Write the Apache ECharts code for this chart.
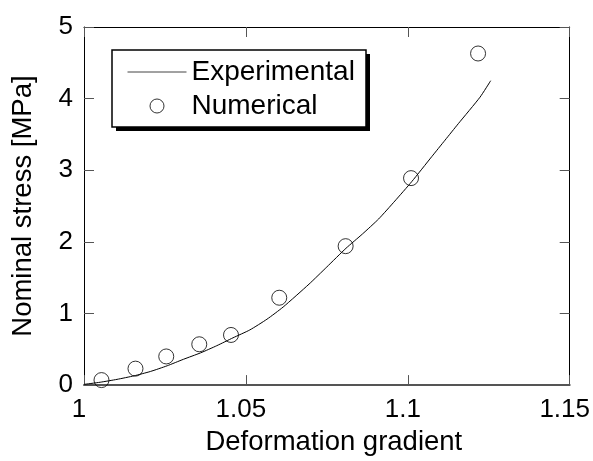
<!DOCTYPE html>
<html>
<head>
<meta charset="utf-8">
<script src="https://cdn.jsdelivr.net/npm/echarts@6/dist/echarts.min.js"></script>
<style>
html,body{margin:0;padding:0;background:#fff;}
#chart{width:593px;height:461px;}
</style>
</head>
<body>
<div id="chart"></div>
<script>
// Experimental curve (deformation gradient, nominal stress MPa)
var expX = [1.000, 1.005, 1.0102, 1.0155, 1.0205, 1.0257, 1.0307, 1.036, 1.041, 1.046, 1.0512, 1.0565, 1.0615, 1.0695, 1.075, 1.0809, 1.086, 1.091, 1.096, 1.1012, 1.1074, 1.1115, 1.1156, 1.1223, 1.1256];
var expY = [0.01, 0.04, 0.08, 0.13, 0.19, 0.27, 0.36, 0.45, 0.55, 0.66, 0.77, 0.92, 1.09, 1.41, 1.65, 1.91, 2.11, 2.32, 2.57, 2.84, 3.19, 3.42, 3.65, 4.02, 4.25];
// Numerical points
var numX = [1.0054, 1.0159, 1.0254, 1.0356, 1.0454, 1.0603, 1.0808, 1.1010, 1.1217];
var numY = [0.07, 0.23, 0.40, 0.57, 0.70, 1.22, 1.94, 2.89, 4.63];
var xTicks = {min: 1, max: 1.15, interval: 0.05};
var yTicks = {min: 0, max: 5, interval: 1};
var legendNames = ['Experimental', 'Numerical'];

var FONT = 'Liberation Sans, Arial, sans-serif';
var chart = echarts.init(document.getElementById('chart'), null, {renderer: 'canvas'});

function pairs(xs, ys) { return xs.map(function (x, i) { return [x, ys[i]]; }); }

var tickStyle = {show: true, inside: true, length: 10, lineStyle: {color: '#555', width: 1}};
var option = {
  backgroundColor: '#fff',
  animation: false,
  grid: {left: 84, right: 21, top: 27, bottom: 68, containLabel: false},
  graphic: [
    {type: 'rect', z: 10, shape: {x: 116, y: 54, width: 254, height: 77}, style: {fill: '#000'}},
    {type: 'rect', z: 11, shape: {x: 112, y: 50, width: 254, height: 77}, style: {fill: '#fff', stroke: '#000', lineWidth: 1.5}}
  ],
  legend: {
    orient: 'vertical',
    left: 127, top: 58,
    padding: 0,
    itemGap: 6,
    itemWidth: 59, itemHeight: 14,
    z: 20,
    textStyle: {fontFamily: FONT, fontSize: 28, color: '#000', lineHeight: 28},
    data: [
      {name: legendNames[0], itemStyle: {opacity: 0}, lineStyle: {color: '#444', width: 1}},
      {name: legendNames[1], itemStyle: {borderWidth: 1, borderColor: '#000'}}
    ]
  },
  xAxis: [{
    type: 'value', min: xTicks.min, max: xTicks.max, interval: xTicks.interval,
    name: 'Deformation gradient', nameLocation: 'middle', nameGap: 42,
    nameTextStyle: {fontFamily: FONT, fontSize: 27.5, color: '#000', padding: [0, 0, 0, 14]},
    axisLine: {show: true, onZero: false, lineStyle: {color: '#555', width: 2}},
    axisTick: tickStyle,
    axisLabel: {fontFamily: FONT, fontSize: 26, color: '#000', margin: 12, padding: [0, 10, 0, 0]},
    splitLine: {show: false}
  }, {
    type: 'value', position: 'top', min: xTicks.min, max: xTicks.max, interval: xTicks.interval,
    axisLine: {show: true, onZero: false, lineStyle: {color: '#000', width: 1}},
    axisTick: tickStyle, axisLabel: {show: false}, splitLine: {show: false}
  }],
  yAxis: [{
    type: 'value', min: yTicks.min, max: yTicks.max, interval: yTicks.interval,
    name: 'Nominal stress [MPa]', nameLocation: 'middle', nameGap: 47, nameRotate: 90,
    nameTextStyle: {fontFamily: FONT, fontSize: 27.5, color: '#000'},
    axisLine: {show: true, onZero: false, lineStyle: {color: '#000', width: 1}},
    axisTick: tickStyle,
    axisLabel: {fontFamily: FONT, fontSize: 26, color: '#000', margin: 11},
    splitLine: {show: false}
  }, {
    type: 'value', position: 'right', min: yTicks.min, max: yTicks.max, interval: yTicks.interval,
    axisLine: {show: true, onZero: false, lineStyle: {color: '#000', width: 1}},
    axisTick: tickStyle, axisLabel: {show: false}, splitLine: {show: false}
  }],
  series: [{
    name: legendNames[0], type: 'line', symbol: 'none', smooth: 0.2,
    lineStyle: {color: '#000', width: 1}, itemStyle: {color: '#000'},
    data: pairs(expX, expY), z: 3
  }, {
    name: legendNames[1], type: 'scatter', symbol: 'circle', symbolSize: 15,
    itemStyle: {color: 'rgba(255,255,255,0)', borderColor: '#000', borderWidth: 1},
    data: pairs(numX, numY), z: 2
  }]
};
chart.setOption(option);
</script>
</body>
</html>
